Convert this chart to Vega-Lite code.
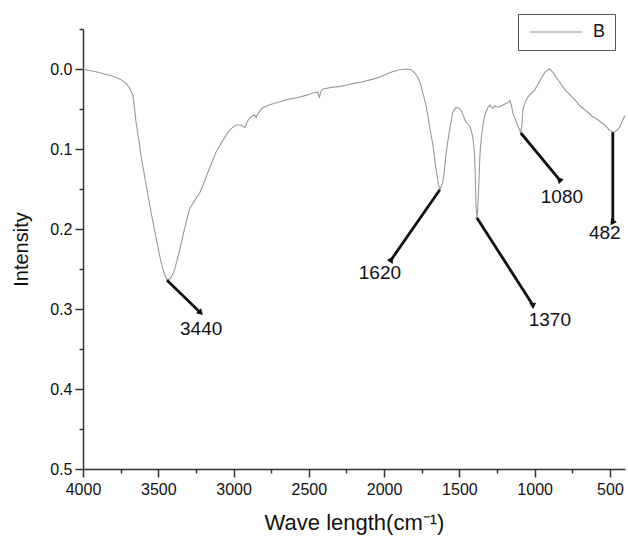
{
  "$schema": "https://vega.github.io/schema/vega-lite/v6.json",
  "width": 542,
  "height": 440,
  "autosize": "none",
  "padding": {"left": 83, "top": 29, "right": 3, "bottom": 70},
  "background": "white",
  "config": {
    "view": {"stroke": null},
    "font": "Liberation Sans",
    "axis": {"grid": false, "domainColor": "#333", "tickColor": "#333", "domainWidth": 1.5, "tickWidth": 1.5, "labelColor": "#111", "titleColor": "#111", "labelFont": "Liberation Sans", "titleFont": "Liberation Sans", "titleFontWeight": "normal", "labelFontSize": 16, "titleFontSize": 20},
    "legend": {"labelFont": "Liberation Sans"}
  },
  "datasets": {
    "spectrum": [
      {"w":4000,"v":0.0},{"w":3900,"v":0.004},{"w":3800,"v":0.009},{"w":3750,"v":0.013},{"w":3714,"v":0.018},{"w":3690,"v":0.024},{"w":3668,"v":0.033},{"w":3648,"v":0.066},{"w":3630,"v":0.088},{"w":3615,"v":0.108},{"w":3590,"v":0.135},{"w":3568,"v":0.158},{"w":3545,"v":0.182},{"w":3522,"v":0.204},{"w":3500,"v":0.225},{"w":3482,"v":0.241},{"w":3460,"v":0.256},{"w":3440,"v":0.264},{"w":3420,"v":0.262},{"w":3400,"v":0.255},{"w":3389,"v":0.249},{"w":3360,"v":0.228},{"w":3336,"v":0.208},{"w":3310,"v":0.188},{"w":3290,"v":0.174},{"w":3260,"v":0.165},{"w":3223,"v":0.154},{"w":3200,"v":0.144},{"w":3170,"v":0.129},{"w":3140,"v":0.115},{"w":3117,"v":0.104},{"w":3080,"v":0.092},{"w":3050,"v":0.083},{"w":3024,"v":0.076},{"w":3000,"v":0.072},{"w":2977,"v":0.070},{"w":2950,"v":0.070},{"w":2935,"v":0.072},{"w":2924,"v":0.073},{"w":2910,"v":0.066},{"w":2891,"v":0.061},{"w":2870,"v":0.058},{"w":2858,"v":0.058},{"w":2850,"v":0.061},{"w":2840,"v":0.056},{"w":2805,"v":0.048},{"w":2750,"v":0.044},{"w":2692,"v":0.041},{"w":2640,"v":0.038},{"w":2579,"v":0.036},{"w":2520,"v":0.033},{"w":2473,"v":0.030},{"w":2440,"v":0.029},{"w":2430,"v":0.036},{"w":2420,"v":0.028},{"w":2406,"v":0.025},{"w":2350,"v":0.023},{"w":2300,"v":0.022},{"w":2247,"v":0.020},{"w":2200,"v":0.018},{"w":2141,"v":0.016},{"w":2080,"v":0.013},{"w":2028,"v":0.010},{"w":1990,"v":0.007},{"w":1955,"v":0.004},{"w":1900,"v":0.001},{"w":1850,"v":0.0},{"w":1820,"v":0.001},{"w":1796,"v":0.005},{"w":1775,"v":0.011},{"w":1756,"v":0.020},{"w":1740,"v":0.032},{"w":1722,"v":0.045},{"w":1710,"v":0.058},{"w":1696,"v":0.074},{"w":1676,"v":0.095},{"w":1656,"v":0.124},{"w":1640,"v":0.143},{"w":1630,"v":0.151},{"w":1620,"v":0.147},{"w":1610,"v":0.141},{"w":1600,"v":0.128},{"w":1590,"v":0.108},{"w":1575,"v":0.088},{"w":1563,"v":0.074},{"w":1550,"v":0.060},{"w":1543,"v":0.054},{"w":1523,"v":0.048},{"w":1505,"v":0.049},{"w":1490,"v":0.051},{"w":1475,"v":0.058},{"w":1457,"v":0.066},{"w":1440,"v":0.070},{"w":1430,"v":0.072},{"w":1420,"v":0.078},{"w":1410,"v":0.086},{"w":1400,"v":0.105},{"w":1395,"v":0.130},{"w":1390,"v":0.170},{"w":1384,"v":0.186},{"w":1378,"v":0.175},{"w":1372,"v":0.150},{"w":1364,"v":0.108},{"w":1355,"v":0.088},{"w":1344,"v":0.070},{"w":1334,"v":0.060},{"w":1324,"v":0.054},{"w":1310,"v":0.048},{"w":1297,"v":0.045},{"w":1287,"v":0.048},{"w":1277,"v":0.049},{"w":1265,"v":0.046},{"w":1244,"v":0.048},{"w":1220,"v":0.046},{"w":1191,"v":0.043},{"w":1175,"v":0.042},{"w":1165,"v":0.039},{"w":1155,"v":0.045},{"w":1145,"v":0.055},{"w":1130,"v":0.062},{"w":1118,"v":0.068},{"w":1105,"v":0.074},{"w":1092,"v":0.080},{"w":1085,"v":0.070},{"w":1078,"v":0.051},{"w":1060,"v":0.040},{"w":1045,"v":0.035},{"w":1020,"v":0.030},{"w":999,"v":0.026},{"w":975,"v":0.018},{"w":952,"v":0.010},{"w":930,"v":0.004},{"w":912,"v":0.001},{"w":900,"v":0.0},{"w":880,"v":0.004},{"w":866,"v":0.008},{"w":840,"v":0.015},{"w":813,"v":0.022},{"w":790,"v":0.028},{"w":770,"v":0.031},{"w":753,"v":0.035},{"w":720,"v":0.041},{"w":700,"v":0.046},{"w":667,"v":0.051},{"w":640,"v":0.055},{"w":620,"v":0.059},{"w":600,"v":0.061},{"w":570,"v":0.065},{"w":534,"v":0.070},{"w":510,"v":0.075},{"w":490,"v":0.078},{"w":481,"v":0.079},{"w":465,"v":0.078},{"w":450,"v":0.076},{"w":434,"v":0.072},{"w":420,"v":0.066},{"w":410,"v":0.062},{"w":400,"v":0.058}
    ],
    "arrows": [
      {"label":"3440","w1":3442,"v1":0.264,"w2":3223,"v2":0.304,"lw":3215,"lv":0.325},
      {"label":"1620","w1":1630,"v1":0.151,"w2":1955,"v2":0.239,"lw":2028,"lv":0.255},
      {"label":"1370","w1":1384,"v1":0.186,"w2":1012,"v2":0.295,"lw":899,"lv":0.314},
      {"label":"1080","w1":1092,"v1":0.080,"w2":833,"v2":0.139,"lw":819,"lv":0.160},
      {"label":"482","w1":481,"v1":0.079,"w2":481,"v2":0.191,"lw":534,"lv":0.205}
    ]
  },
  "resolve": {"axis": {"x": "independent", "y": "independent"}},
  "layer": [
    {
      "data": {"name": "spectrum"},
      "mark": {"type": "line", "strokeWidth": 1.1, "interpolate": "linear"},
      "encoding": {
        "x": {"field": "w", "type": "quantitative", "scale": {"domain": [4000, 400], "nice": false, "zero": false},
          "axis": {"title": "Wave length(cm⁻¹)", "orient": "bottom", "values": [4000,3500,3000,2500,2000,1500,1000,500], "format": "d",
            "tickSize": 8, "labelPadding": 4, "titlePadding": 15, "titleFontSize": 22, "labelFlush": false}},
        "y": {"field": "v", "type": "quantitative", "scale": {"domain": [-0.05, 0.5], "nice": false, "zero": false, "reverse": true},
          "axis": {"title": "Intensity", "orient": "left", "values": [0,0.1,0.2,0.3,0.4,0.5], "format": ".1f",
            "tickSize": 8, "labelPadding": 3, "titlePadding": 18}},
        "color": {"datum": "B", "type": "nominal", "scale": {"range": ["#999999"]},
          "legend": {"title": null, "orient": "none", "legendX": 435, "legendY": -15, "symbolType": "M-3.5,0H3.5", "symbolSize": 225, "symbolOffset": 20, "symbolStrokeWidth": 1.1,
            "labelFontSize": 18, "labelColor": "#111", "labelOffset": 28, "padding": 9, "strokeColor": "#555", "fillColor": "white"}}
      }
    },
    {
      "data": {"name": "arrows"},
      "mark": {"type": "rule", "strokeWidth": 2.8, "color": "#111"},
      "encoding": {
        "x": {"field": "w1", "type": "quantitative",
          "axis": {"orient": "bottom", "title": null, "labels": false, "tickSize": 4, "values": [3750,3250,2750,2250,1750,1250,750], "domain": false}},
        "y": {"field": "v1", "type": "quantitative",
          "axis": {"orient": "left", "title": null, "labels": false, "tickSize": 4, "values": [-0.05,0.05,0.15,0.25,0.35,0.45], "domain": false}},
        "x2": {"field": "w2"},
        "y2": {"field": "v2"}
      }
    },
    {
      "data": {"name": "arrows"},
      "mark": {"type": "point", "shape": "triangle", "filled": true, "size": 50, "color": "#111", "opacity": 1},
      "encoding": {
        "x": {"field": "w2", "type": "quantitative", "axis": null},
        "y": {"field": "v2", "type": "quantitative", "axis": null},
        "angle": {"field": "label", "type": "nominal", "scale": {"domain": ["3440","1620","1370","1080","482"], "range": [134, 215, 147, 140, 180]}, "legend": null}
      }
    },
    {
      "data": {"name": "arrows"},
      "mark": {"type": "text", "fontSize": 19, "font": "Liberation Sans", "color": "#111", "align": "center", "baseline": "middle"},
      "encoding": {
        "x": {"field": "lw", "type": "quantitative", "axis": null},
        "y": {"field": "lv", "type": "quantitative", "axis": null},
        "text": {"field": "label", "type": "nominal"}
      }
    }
  ]
}
